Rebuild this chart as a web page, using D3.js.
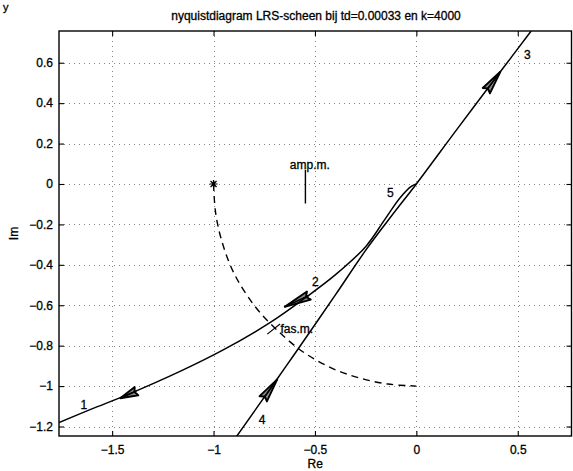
<!DOCTYPE html>
<html><head><meta charset="utf-8">
<script src="https://cdn.jsdelivr.net/npm/d3@7"></script>
<style>
body{margin:0;background:#fff;}
text{font-family:"Liberation Sans",Arial,Helvetica,sans-serif;fill:#000;stroke:#000;stroke-width:0.3px;}
</style></head>
<body><svg id="c" width="573" height="471"></svg>
<script>
// ---- data ----
const titleText = "nyquistdiagram LRS-scheen bij td=0.00033 en k=4000";
const xLabel = "Re", yLabel = "Im";
const xTicks = [-1.5, -1, -0.5, 0, 0.5];
const yTicks = [-1.2, -1, -0.8, -0.6, -0.4, -0.2, 0, 0.2, 0.4, 0.6];
const xDomain = [-1.762, 0.765];
const yDomain = [-1.247, 0.757];

// branch 1 -> 2 -> 5 (ends at origin)
const branchARe = [-1.762, -1.60, -1.43, -1.16, -0.95, -0.72, -0.55, -0.40, -0.25, -0.155, -0.08, -0.025, 0];
const branchAIm = [-1.18, -1.113, -1.045, -0.925, -0.82, -0.685, -0.565, -0.45, -0.31, -0.175, -0.068, -0.012, 0];
// branch 4 -> 3 (through origin)
const branchBRe = [-0.887, -0.69, -0.596, -0.40, -0.251, -0.12, 0, 0.20, 0.414, 0.566];
const branchBIm = [-1.25, -0.97, -0.835, -0.55, -0.33, -0.155, 0, 0.27, 0.555, 0.757];
// dashed unit-circle quarter arc
const arcRe = [-1, -0.99, -0.96, -0.90, -0.80, -0.69, -0.56, -0.42, -0.28, -0.14, 0];
const arcIm = [0, -0.14, -0.28, -0.44, -0.60, -0.72, -0.83, -0.91, -0.96, -0.99, -1];
// arrows: tip and base points
const arrowTipRe = [-1.46, -0.649, 0.414, -0.686];
const arrowTipIm = [-1.06, -0.608, 0.555, -0.967];
const arrowBaseRe = [-1.38, -0.53, 0.345, -0.755];
const arrowBaseIm = [-1.025, -0.552, 0.462, -1.063];
// branch number labels
const numText = ["1", "2", "3", "4", "5"];
const numRe = [-1.64, -0.498, 0.547, -0.76, -0.128];
const numIm = [-1.094, -0.484, 0.639, -1.165, -0.043];
// critical point
const critRe = [-1], critIm = [0];
// amplitude margin marker
const ampText = "amp.m.";
const ampLabelRe = -0.624, ampLabelIm = 0.074;
const ampLineRe = [-0.547, -0.547], ampLineIm = [0.07, -0.096];
// phase margin marker
const fasText = "fas.m.";
const fasLabelRe = -0.67, fasLabelIm = -0.736;
const fasLineRe = [-0.735, -0.672], fasLineIm = [-0.743, -0.693];

// ---- drawing ----
const svg = d3.select("#c");
const L = 59, R = 571.5, T = 31, B = 436;
const x = d3.scaleLinear().domain(xDomain).range([L, R]);
const y = d3.scaleLinear().domain(yDomain).range([B, T]);
const fmt = d3.format("");

svg.append("defs").append("clipPath").attr("id", "clip")
  .append("rect").attr("x", L).attr("y", T).attr("width", R - L).attr("height", B - T);

// grid
const grid = svg.append("g").attr("stroke", "#333").attr("stroke-width", 1)
  .attr("stroke-dasharray", "1,4").attr("opacity", 0.6);
grid.selectAll(".gx").data(xTicks).join("line")
  .attr("x1", d => Math.round(x(d)) + 0.5).attr("x2", d => Math.round(x(d)) + 0.5)
  .attr("y1", T).attr("y2", B);
grid.selectAll(".gy").data(yTicks).join("line")
  .attr("y1", d => Math.round(y(d)) + 0.5).attr("y2", d => Math.round(y(d)) + 0.5)
  .attr("x1", L).attr("x2", R);

// axes
const axB = svg.append("g").attr("transform", `translate(0,${B})`)
  .call(d3.axisBottom(x).tickValues(xTicks).tickFormat(fmt).tickSizeInner(-5).tickSizeOuter(0).tickPadding(9));
const axL = svg.append("g").attr("transform", `translate(${L},0)`)
  .call(d3.axisLeft(y).tickValues(yTicks).tickFormat(fmt).tickSizeInner(-5).tickSizeOuter(0).tickPadding(6));
const axT = svg.append("g").attr("transform", `translate(0,${T})`)
  .call(d3.axisTop(x).tickValues(xTicks).tickFormat("").tickSizeInner(-5).tickSizeOuter(0));
const axR = svg.append("g").attr("transform", `translate(${R},0)`)
  .call(d3.axisRight(y).tickValues(yTicks).tickFormat("").tickSizeInner(-5).tickSizeOuter(0));
[axB, axL, axT, axR].forEach(a => {
  a.selectAll("text").attr("font-size", 12).attr("font-family", "Liberation Sans, Arial, sans-serif");
  a.selectAll("line").attr("stroke", "#000").attr("stroke-width", 1.1);
  a.select(".domain").remove();
});
svg.append("rect").attr("x", L).attr("y", T).attr("width", R - L).attr("height", B - T)
  .attr("fill", "none").attr("stroke", "#000").attr("stroke-width", 1.4);

const plot = svg.append("g").attr("clip-path", "url(#clip)");
const line = d3.line().x(d => x(d[0])).y(d => y(d[1])).curve(d3.curveCatmullRom.alpha(0.5));
const zipPts = (a, b) => a.map((v, i) => [v, b[i]]);

plot.append("path").datum(zipPts(branchARe, branchAIm)).attr("d", line)
  .attr("fill", "none").attr("stroke", "#000").attr("stroke-width", 1.5);
plot.append("path").datum(zipPts(branchBRe, branchBIm)).attr("d", line)
  .attr("fill", "none").attr("stroke", "#000").attr("stroke-width", 1.5);
plot.append("path").datum(zipPts(arcRe, arcIm)).attr("d", line)
  .attr("fill", "none").attr("stroke", "#000").attr("stroke-width", 1.4).attr("stroke-dasharray", "7,5");

// arrows
arrowTipRe.forEach((_, i) => {
  const tx = x(arrowTipRe[i]), ty = y(arrowTipIm[i]);
  const bx = x(arrowBaseRe[i]), by = y(arrowBaseIm[i]);
  const dx = tx - bx, dy = ty - by, len = Math.hypot(dx, dy);
  const px = -dy / len * 4.5, py = dx / len * 4.5;
  const pts = [[tx, ty], [bx + px, by + py], [bx + dx * 0.12, by + dy * 0.12], [bx - px, by - py]];
  plot.append("path").attr("d", "M" + pts.map(p => p.join(",")).join("L") + "Z")
    .attr("fill", "#000").attr("fill-opacity", 0.45).attr("stroke", "#000").attr("stroke-width", 1.9)
    .attr("stroke-linejoin", "round");
  plot.append("line").attr("x1", bx).attr("y1", by).attr("x2", tx).attr("y2", ty)
    .attr("stroke", "#000").attr("stroke-width", 1.5);
});

// critical point marker '*'
critRe.forEach((v, i) => {
  const cx = x(v), cy = y(critIm[i]), s = 4;
  plot.append("path")
    .attr("d", `M${cx - s},${cy}L${cx + s},${cy}M${cx},${cy - s}L${cx},${cy + s}M${cx - s * 0.75},${cy - s * 0.75}L${cx + s * 0.75},${cy + s * 0.75}M${cx - s * 0.75},${cy + s * 0.75}L${cx + s * 0.75},${cy - s * 0.75}`)
    .attr("stroke", "#000").attr("stroke-width", 1.2);
});

// margin markers
plot.append("line").attr("x1", x(ampLineRe[0])).attr("x2", x(ampLineRe[1]))
  .attr("y1", y(ampLineIm[0])).attr("y2", y(ampLineIm[1])).attr("stroke", "#000").attr("stroke-width", 1.4);
plot.append("line").attr("x1", x(fasLineRe[0])).attr("x2", x(fasLineRe[1]))
  .attr("y1", y(fasLineIm[0])).attr("y2", y(fasLineIm[1])).attr("stroke", "#000").attr("stroke-width", 1.2);
svg.append("text").attr("x", x(ampLabelRe)).attr("y", y(ampLabelIm)).attr("font-size", 12).text(ampText);
svg.append("text").attr("x", x(fasLabelRe)).attr("y", y(fasLabelIm)).attr("font-size", 12).text(fasText);

// branch numbers
numText.forEach((t, i) => {
  svg.append("text").attr("x", x(numRe[i])).attr("y", y(numIm[i])).attr("dy", "0.35em")
    .attr("text-anchor", "middle").attr("font-size", 12).text(t);
});

// title and axis labels
svg.append("text").attr("x", 316).attr("y", 20).attr("text-anchor", "middle").attr("font-size", 12).text(titleText);
svg.append("text").attr("x", (L + R) / 2).attr("y", 468).attr("text-anchor", "middle").attr("font-size", 12).text(xLabel);
svg.append("text").attr("transform", `translate(18,${(T + B) / 2}) rotate(-90)`).attr("text-anchor", "middle")
  .attr("font-size", 12).text(yLabel);
// scan glyph at top-left
svg.append("text").attr("x", 3).attr("y", 11).attr("font-size", 11).text("y");
</script></body></html>
